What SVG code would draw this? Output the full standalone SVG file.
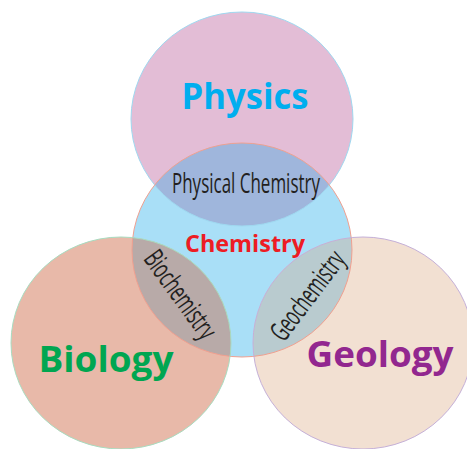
<svg xmlns="http://www.w3.org/2000/svg" width="467" height="449" viewBox="0 0 467 449">
<style>
.big{font-family:"Open Sans","Noto Sans",sans-serif;font-weight:bold;text-anchor:middle}
.sub{font-family:"Open Sans","Noto Sans",sans-serif;fill:#231f20;text-anchor:middle}
</style>
<defs>
<ellipse id="eP" cx="242" cy="119" rx="111" ry="107"/>
<ellipse id="eC" cx="242" cy="250" rx="110" ry="107"/>
<ellipse id="eB" cx="121" cy="343" rx="110" ry="106"/>
<ellipse id="eG" cx="363" cy="343" rx="110" ry="106"/>
<clipPath id="cC"><use href="#eC"/></clipPath>
</defs>
<rect width="467" height="449" fill="#ffffff"/>
<g id="physics">
<use href="#eP" fill="#e3bdd6"/>
</g>
<g id="chemistry">
<use href="#eC" fill="#a9dff7"/>
</g>
<g id="biology">
<use href="#eB" fill="#e8b9a9"/>
</g>
<g id="geology">
<use href="#eG" fill="#f2e0d2"/>
</g>
<g id="lenses" clip-path="url(#cC)">
<use href="#eP" fill="#9fb6dc"/>
<use href="#eB" fill="#b8aaa8"/>
<use href="#eG" fill="#b9cbcf"/>
</g>
<g id="outlines" fill="none" stroke-width="1">
<use href="#eP" stroke="#9fd8f0"/>
<use href="#eC" stroke="#f0a090"/>
<use href="#eB" stroke="#a8dcc0"/>
<use href="#eG" stroke="#c5b0d8"/>
</g>
<g id="labels">
<text class="big" x="245" y="109" font-size="36" fill="#00aeef" textLength="127" lengthAdjust="spacingAndGlyphs">Physics</text>
<text class="big" x="245" y="252" font-size="23" fill="#ed1c24" textLength="120" lengthAdjust="spacingAndGlyphs">Chemistry</text>
<text class="big" x="106" y="372" font-size="36" fill="#00a651" textLength="135" lengthAdjust="spacingAndGlyphs">Biology</text>
<text class="big" x="380" y="367" font-size="36" fill="#92278f" textLength="147" lengthAdjust="spacingAndGlyphs">Geology</text>
<text class="sub" x="246" y="193" font-size="28" textLength="148" lengthAdjust="spacingAndGlyphs">Physical Chemistry</text>
<text class="sub" transform="translate(180,295) rotate(54)" x="0" y="9" font-size="28" textLength="102" lengthAdjust="spacingAndGlyphs">Biochemistry</text>
<text class="sub" transform="translate(308,296) rotate(-53)" x="0" y="9" font-size="28" textLength="104" lengthAdjust="spacingAndGlyphs">Geochemistry</text>
</g>
</svg>
